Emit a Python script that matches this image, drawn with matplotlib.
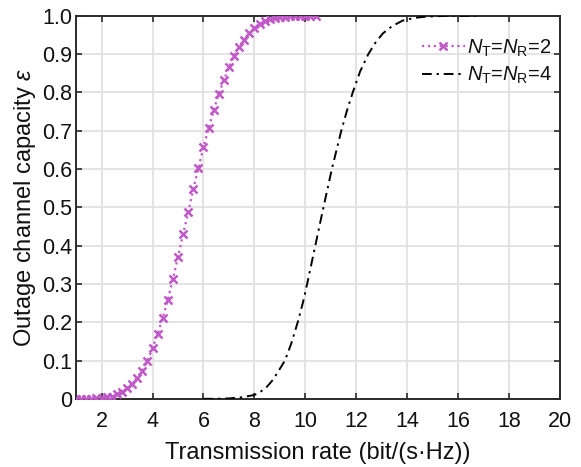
import matplotlib
matplotlib.use("Agg")
import matplotlib.pyplot as plt

plt.rcParams["font.family"] = ["Liberation Sans", "DejaVu Sans"]
plt.rcParams["mathtext.fontset"] = "custom"
plt.rcParams["mathtext.rm"] = "Liberation Sans"
plt.rcParams["mathtext.it"] = "Liberation Sans:italic"

# outage probability vs rate, 2x2 MIMO (sampled every 0.2 bit/s/Hz)
rate_2x2 = [1.0, 1.2, 1.4, 1.6, 1.8, 2.0, 2.2, 2.4, 2.6, 2.8,
            3.0, 3.2, 3.4, 3.6, 3.8, 4.0, 4.2, 4.4, 4.6, 4.8,
            5.0, 5.2, 5.4, 5.6, 5.8, 6.0, 6.2, 6.4, 6.6, 6.8,
            7.0, 7.2, 7.4, 7.6, 7.8, 8.0, 8.2, 8.4, 8.6, 8.8,
            9.0, 9.2, 9.4, 9.6, 9.8, 10.0, 10.2, 10.4]
outage_2x2 = [0.0, 0.0, 0.0, 0.0, 0.001, 0.002, 0.004, 0.006, 0.012, 0.019,
              0.028, 0.040, 0.054, 0.073, 0.099, 0.132, 0.169, 0.212, 0.258, 0.313,
              0.370, 0.430, 0.487, 0.548, 0.602, 0.657, 0.706, 0.753, 0.796, 0.832,
              0.866, 0.895, 0.919, 0.938, 0.954, 0.968, 0.978, 0.986, 0.991, 0.995,
              0.997, 0.998, 0.999, 0.999, 1.0, 1.0, 1.0, 1.0]

# outage probability vs rate, 4x4 MIMO
rate_4x4 = [6.0, 6.5, 7.0, 7.5, 8.0, 8.25, 8.5, 8.73, 8.95, 9.2,
            9.45, 9.7, 9.9, 10.07, 10.39, 10.71, 11.04, 11.41, 11.63, 11.86,
            12.15, 12.47, 12.75, 13.04, 13.4, 13.83, 14.3, 14.75, 15.5, 16.8]
outage_4x4 = [0.0, 0.0, 0.001, 0.004, 0.010, 0.019, 0.032, 0.050, 0.073, 0.100,
              0.145, 0.200, 0.250, 0.300, 0.400, 0.500, 0.600, 0.700, 0.752, 0.800,
              0.855, 0.900, 0.930, 0.954, 0.973, 0.988, 0.995, 0.998, 1.0, 1.0]

x_ticks = [2, 4, 6, 8, 10, 12, 14, 16, 18, 20]
y_ticks = [0, 0.1, 0.2, 0.3, 0.4, 0.5, 0.6, 0.7, 0.8, 0.9, 1.0]
y_ticklabels = ["0", "0.1", "0.2", "0.3", "0.4", "0.5", "0.6", "0.7", "0.8", "0.9", "1.0"]

tick_fs = 15.5
label_fs = 17
legend_fs = 14.5
axis_color = "#2b2b2b"
text_color = "#111111"

fig = plt.figure(figsize=(5.81, 4.67), dpi=100)
ax = fig.add_axes([0.131, 0.146, 0.833, 0.820])

ax.plot(rate_2x2, outage_2x2, linestyle=":", color="#C058C8", linewidth=1.6,
        marker="x", markersize=5.5, markeredgewidth=1.8,
        label=r"$N_{\mathrm{T}}$=$N_{\mathrm{R}}$=2", zorder=3)
ax.plot(rate_4x4, outage_4x4, linestyle=(0, (5, 2.5, 1.2, 2.5)), color="black",
        linewidth=1.4, label=r"$N_{\mathrm{T}}$=$N_{\mathrm{R}}$=4", zorder=3)

ax.set_xlim(1, 20)
ax.set_ylim(0, 1)
ax.set_xticks(x_ticks)
ax.set_yticks(y_ticks)
ax.set_yticklabels(y_ticklabels)

ax.grid(True, color="#e2e2e2", linewidth=1.3)
ax.set_axisbelow(True)
for sp in ax.spines.values():
    sp.set_color(axis_color)
    sp.set_linewidth(1.4)
ax.tick_params(direction="in", top=True, right=True, length=4, width=1.2,
               colors=axis_color, labelcolor=text_color, labelsize=tick_fs)
ax.tick_params(axis="x", pad=9)
ax.tick_params(axis="y", pad=3)

ax.set_xlabel("Transmission rate (bit/(s\u00b7Hz))", fontsize=label_fs,
              color=text_color, labelpad=7)
ax.set_ylabel(r"Outage channel capacity $\varepsilon$", fontsize=label_fs,
              color=text_color, labelpad=3)

leg = ax.legend(loc="upper right", frameon=False, fontsize=legend_fs,
                handlelength=2.15, handletextpad=0.1, labelspacing=0.32,
                borderaxespad=0.0, bbox_to_anchor=(1.0, 0.965))
for t in leg.get_texts():
    t.set_color(text_color)

fig.savefig("out.png", dpi=100)
